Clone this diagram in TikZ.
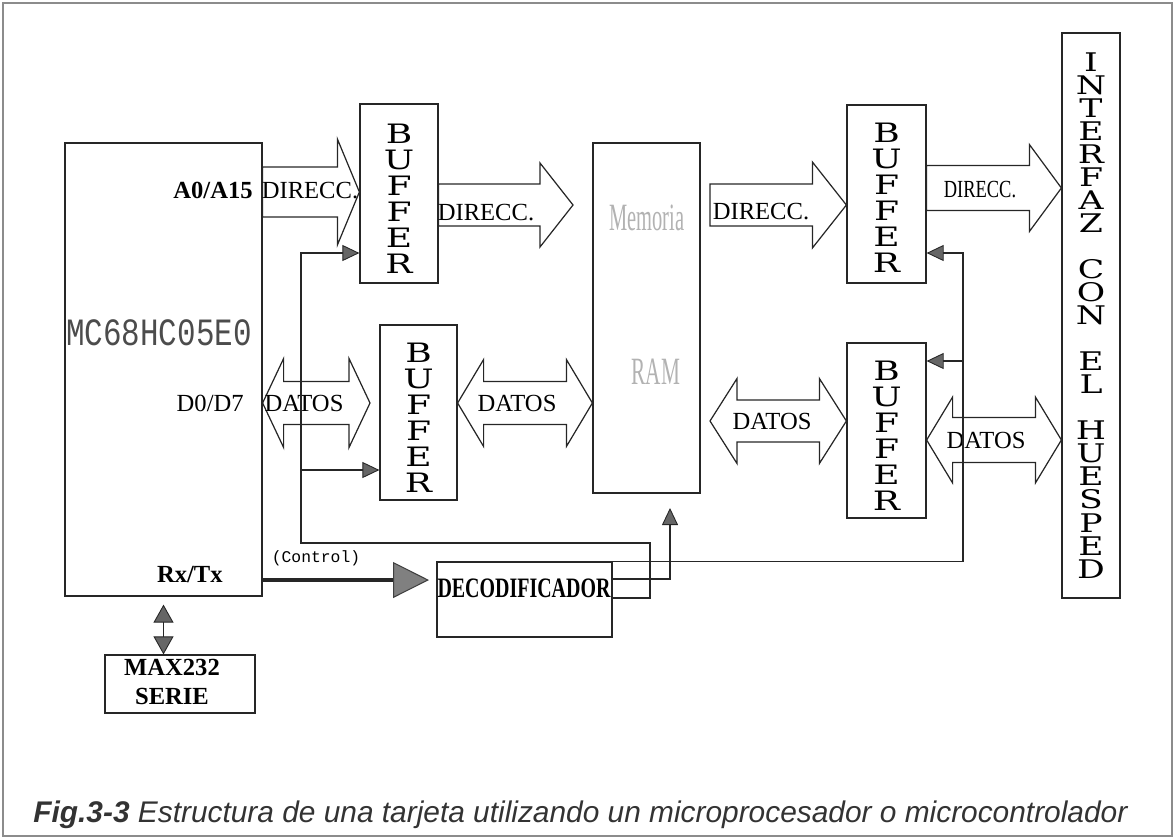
\documentclass[tikz,border=0pt]{standalone}
\usepackage{fontspec}
\setmainfont{Liberation Serif}
\setsansfont{Liberation Sans}
\setmonofont{Liberation Mono}
\newfontfamily\slabfont{DejaVu Serif}
\usepackage{graphicx}
\usetikzlibrary{arrows.meta,positioning,fit,calc}

\newcommand{\vletters}[3]{\scalebox{1.35}[1]{\parbox{1.6em}{\centering\slabfont\fontsize{#1}{#2}\selectfont #3}}}
\newcommand{\busR}[5]{\draw[bus] ($(#1)+(0,#3)$) -- ($(#2)+(-#5,#3)$) -- ($(#2)+(-#5,#4)$) -- (#2) -- ($(#2)+(-#5,-#4)$) -- ($(#2)+(-#5,-#3)$) -- ($(#1)+(0,-#3)$) -- cycle;}
\newcommand{\busD}[5]{\draw[bus] ($(#1)+(#5,#3)$) -- ($(#2)+(-#5,#3)$) -- ($(#2)+(-#5,#4)$) -- (#2) -- ($(#2)+(-#5,-#4)$) -- ($(#2)+(-#5,-#3)$) -- ($(#1)+(#5,-#3)$) -- ($(#1)+(#5,-#4)$) -- (#1) -- ($(#1)+(#5,#4)$) -- cycle;}

\begin{document}
\begin{tikzpicture}[
            x=0.02cm, y=-0.02cm,
            box/.style={draw=black!85, line width=0.7pt, inner sep=0pt},
            bus/.style={draw=black!85, line width=0.7pt},
            ctl/.style={draw=black!85, line width=0.6pt, -{Triangle[length=0.34cm, width=0.32cm, fill=black!60, line width=0.5pt]}},
            lbl/.style={inner sep=0pt, font=\fontsize{14}{16}\selectfont},
            blbl/.style={inner sep=0pt, font=\bfseries\fontsize{14}{17}\selectfont}
        ]
            \useasboundingbox (0,0) rectangle (1175,839);
            \draw[black!45, line width=0.6pt] (3,3) rectangle (1172,836);

            \node[box, fit={(65,143) (262,596)}] (mc) {};
            \node[box, fit={(360,104) (438,283)}] (buf1) {};
            \node[box, fit={(380,325) (457,500)}] (buf2) {};
            \node[box, fit={(593,143) (700,493)}] (mem) {};
            \node[box, fit={(847,105) (926,283)}] (buf3) {};
            \node[box, fit={(847,343) (926,518)}] (buf4) {};
            \node[box, fit={(1062,33) (1120,598)}] (intf) {};
            \node[box, fit={(437,562) (612,637)}] (dec) {};
            \node[box, fit={(105,655) (255,713)}] (max) {};

            \node[inner sep=0pt] (buf1txt) at ($(buf1.center)+(0,5)$) {\vletters{15.2}{14.8}{B\\U\\F\\F\\E\\R}};
            \node[inner sep=0pt] (buf2txt) at ($(buf2.center)+(0,5)$) {\vletters{15.2}{14.8}{B\\U\\F\\F\\E\\R}};
            \node[inner sep=0pt] (buf3txt) at ($(buf3.center)+(0,4)$) {\vletters{15.2}{14.8}{B\\U\\F\\F\\E\\R}};
            \node[inner sep=0pt] (buf4txt) at ($(buf4.center)+(0,5)$) {\vletters{15.2}{14.8}{B\\U\\F\\F\\E\\R}};
            \node[inner sep=0pt] (intftxt) at (intf.center) {\vletters{14.6}{13.1}{I\\N\\T\\E\\R\\F\\A\\Z\\\mbox{}\\C\\O\\N\\\mbox{}\\E\\L\\\mbox{}\\H\\U\\E\\S\\P\\E\\D}};

            \node[inner sep=0pt, text=black!70] (mcname) at (159,333) {\scalebox{0.8}[1]{\ttfamily\fontsize{22}{24}\selectfont MC68HC05E0}};
            \node[blbl, anchor=east] (apins) at (253,190) {A0/A15};
            \node[lbl, anchor=east] (dpins) at (244,403) {D0/D7};
            \node[blbl, anchor=east] (rxtx) at (223,575) {Rx/Tx};
            \node[inner sep=0pt, text=gray!60] (memtxt) at (647,218) {\scalebox{0.53}[1]{\fontsize{22}{24}\selectfont Memoria}};
            \node[inner sep=0pt, text=gray!60] (ramtxt) at (656,372) {\scalebox{0.55}[1]{\fontsize{22}{24}\selectfont RAM}};
            \node[blbl] (dectxt) at (524,588) {\scalebox{0.71}[1]{\fontsize{16}{18}\selectfont DECODIFICADOR}};
            \node[blbl, align=center] (maxtxt) at (172,682) {MAX232\\SERIE};
            \node[inner sep=0pt, font=\ttfamily\fontsize{9.3}{11}\selectfont] (ctltxt) at (316,558) {(Control)};

            \coordinate (a1) at (mc.east |- 0,192);
            \coordinate (b1) at (buf1.west |- 0,192);
            \busR{a1}{b1}{25}{53}{22}
            \node[lbl] (l1) at (310,191) {DIRECC.};
            \coordinate (a2) at (buf1.east |- 0,205);
            \coordinate (b2) at (573,205);
            \busR{a2}{b2}{21}{42}{33}
            \node[lbl] (l2) at (486,213) {DIRECC.};
            \coordinate (a3) at (710,205);
            \coordinate (b3) at (buf3.west |- 0,205);
            \busR{a3}{b3}{21}{43}{34}
            \node[lbl] (l3) at (761,212) {DIRECC.};
            \coordinate (a4) at (buf3.east |- 0,188);
            \coordinate (b4) at (intf.west |- 0,188);
            \busR{a4}{b4}{22.5}{43.5}{32}
            \node[lbl] (l4) at (980,190) {\scalebox{0.75}[1]{DIRECC.}};

            \coordinate (c1) at (mc.east |- 0,403);
            \coordinate (e1) at (370,403);
            \busD{c1}{e1}{21.5}{44.5}{21}
            \node[lbl] (d1) at (304,403) {DATOS};
            \coordinate (c2) at (buf2.east |- 0,403);
            \coordinate (e2) at (mem.west |- 0,403);
            \busD{c2}{e2}{21.5}{43.5}{26}
            \node[lbl] (d2) at (517,403) {DATOS};
            \coordinate (c3) at (710,421);
            \coordinate (e3) at (buf4.west |- 0,421);
            \busD{c3}{e3}{21}{42.5}{27}
            \node[lbl] (d3) at (772,421) {DATOS};
            \coordinate (c4) at (buf4.east |- 0,440);
            \coordinate (e4) at (intf.west |- 0,440);
            \busD{c4}{e4}{22.5}{43}{26}
            \node[lbl] (d4) at (986,440) {DATOS};

            \coordinate (j1) at (301,470);
            \coordinate (j2) at (963,361);
            \coordinate (mtip) at (670,508);
            \coordinate (dtip) at (429,580);
            \draw[ctl] (dec.east |- 0,598) -| (650,543) -| (301,253) -- (buf1.west |- 0,253);
            \draw[ctl] (j1) -- (buf2.west |- j1);
            \draw[ctl] (dec.east |- 0,579) -| (mtip);
            \draw[ctl] (dec.north east) -| (963,253) -- (buf3.east |- 0,253);
            \draw[ctl] (j2) -- (buf4.east |- j2);
            \draw[black!85, line width=2.8pt, -{Triangle[length=0.72cm, width=0.72cm, fill=black!50, color=black!75, line width=0.6pt]}] (mc.east |- dtip) -- (dtip);
            \draw[black!85, line width=0.6pt, {Triangle[length=0.36cm, width=0.4cm, fill=black!60, line width=0.5pt]}-{Triangle[length=0.36cm, width=0.4cm, fill=black!60, line width=0.5pt]}] ($(mc.south)+(0,8)$) -- (mc.south |- max.north);

            \node[anchor=west, inner sep=0pt, text=black!80, font=\sffamily\itshape\fontsize{17}{19}\selectfont] (cap) at (33,815) {\textbf{Fig.3-3} Estructura de una tarjeta utilizando un microprocesador o microcontrolador};
        \end{tikzpicture}
\end{document}
